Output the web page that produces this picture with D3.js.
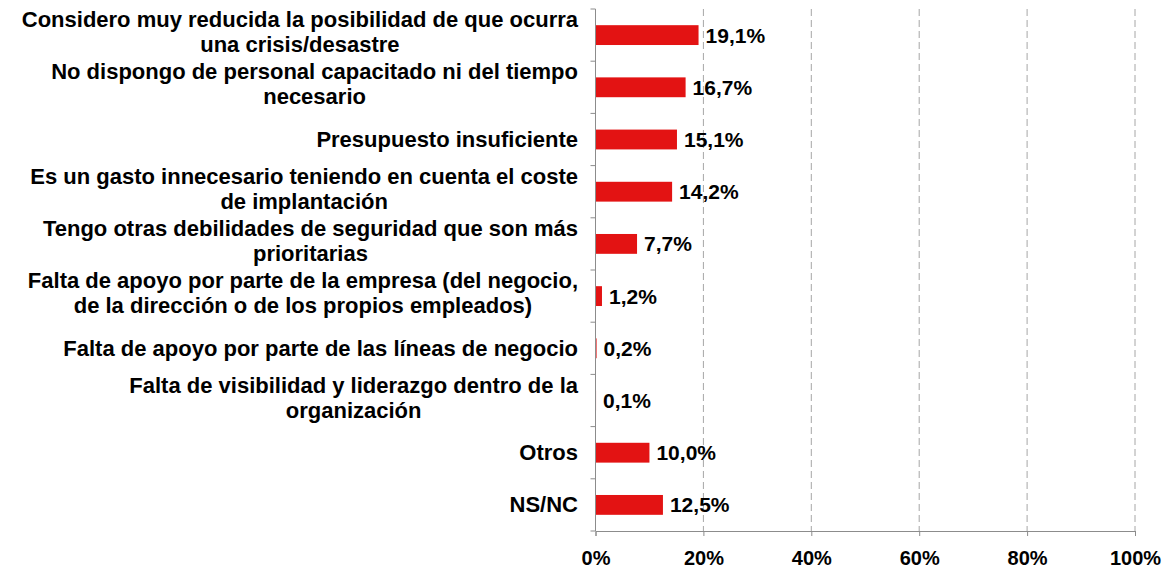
<!DOCTYPE html>
<html>
<head>
<meta charset="utf-8">
<title>Motivos</title>
<script src="https://d3js.org/d3.v7.min.js"></script>
<style>
  body { margin: 0; background: #fff; }
  svg text { font-family: "Liberation Sans", Arial, sans-serif; font-weight: bold; fill: #000; }
</style>
</head>
<body>
<svg width="1172" height="573"></svg>
<script>
// categories (line breaks as in the original chart)
var categories = [
  "Considero muy reducida la posibilidad de que ocurra\nuna crisis/desastre",
  "No dispongo de personal capacitado ni del tiempo\nnecesario",
  "Presupuesto insuficiente",
  "Es un gasto innecesario teniendo en cuenta el coste\nde implantación",
  "Tengo otras debilidades de seguridad que son más\nprioritarias",
  "Falta de apoyo por parte de la empresa (del negocio,\nde la dirección o de los propios empleados)",
  "Falta de apoyo por parte de las líneas de negocio",
  "Falta de visibilidad y liderazgo dentro de la\norganización",
  "Otros",
  "NS/NC"
];
var values = [19.1, 16.7, 15.1, 14.2, 7.7, 1.2, 0.2, 0.1, 10.0, 12.5];
var tickValues = [0, 20, 40, 60, 80, 100];

var svg = d3.select("svg"),
    plotLeft = 595.5, plotRight = 1135, plotTop = 9, plotBottom = 531;

var x = d3.scaleLinear().domain([0, 100]).range([plotLeft, plotRight]);
var y = d3.scaleBand().domain(d3.range(categories.length))
    .range([plotTop, plotBottom]).paddingInner(0.62).paddingOuter(0.31);

var fmt = function(v) { return d3.format(".1f")(v).replace(".", ",") + "%"; };

// vertical dashed gridlines
svg.append("g").selectAll("line")
  .data(tickValues.slice(1))
  .enter().append("line")
    .attr("x1", function(d) { return x(d); })
    .attr("x2", function(d) { return x(d); })
    .attr("y1", plotTop)
    .attr("y2", plotBottom)
    .attr("stroke", "#a6a6a6")
    .attr("stroke-width", 1)
    .attr("stroke-dasharray", "7,4");

// bars
svg.append("g").selectAll("rect")
  .data(values)
  .enter().append("rect")
    .attr("x", x(0))
    .attr("y", function(d, i) { return y(i); })
    .attr("width", function(d) { return x(d) - x(0); })
    .attr("height", y.bandwidth())
    .attr("fill", "#e31313");

// value labels
svg.append("g").selectAll("text")
  .data(values)
  .enter().append("text")
    .attr("x", function(d) { return x(d) + 7; })
    .attr("y", function(d, i) { return y(i) + y.bandwidth() / 2 + 7.5; })
    .attr("font-size", 21)
    .text(fmt);

// y axis (left, ticks between categories)
var yAxis = svg.append("g");
yAxis.append("line")
  .attr("x1", plotLeft).attr("x2", plotLeft).attr("y1", plotTop).attr("y2", plotBottom)
  .attr("stroke", "#8c8c8c");
yAxis.selectAll("line.tick")
  .data(d3.range(categories.length + 1))
  .enter().append("line")
    .attr("class", "tick")
    .attr("x1", plotLeft - 5).attr("x2", plotLeft)
    .attr("y1", function(d) { return plotTop + d * y.step(); })
    .attr("y2", function(d) { return plotTop + d * y.step(); })
    .attr("stroke", "#8c8c8c");

// x axis
var xAxis = svg.append("g").attr("transform", "translate(0," + plotBottom + ")")
  .call(d3.axisBottom(x).tickValues(tickValues).tickSize(5).tickFormat(function(d) { return d + "%"; }));
xAxis.attr("font-family", null).attr("font-size", 20);
xAxis.select(".domain").attr("stroke", "#8c8c8c");
xAxis.selectAll(".tick line").attr("stroke", "#8c8c8c");
xAxis.selectAll(".tick text")
  .attr("y", 34)
  .attr("dy", 0)
  .attr("fill", "#000");

// category labels, each line centred on the block, block right edge at 578
var labelRight = 578, lineH = 25;
categories.forEach(function(c, i) {
  var lines = c.split("\n");
  var cy = y(i) + y.bandwidth() / 2;
  var g = svg.append("g");
  var texts = lines.map(function(l, j) {
    var b = cy + 7.5 - (lines.length - 1) * (lineH / 2 + 3) + j * lineH;
    return g.append("text")
      .attr("y", b)
      .attr("font-size", 22)
      .attr("text-anchor", "middle")
      .text(l);
  });
  var maxW = d3.max(texts, function(t) { return t.node().getComputedTextLength(); });
  texts.forEach(function(t) { t.attr("x", labelRight - maxW / 2); });
});
</script>
</body>
</html>
